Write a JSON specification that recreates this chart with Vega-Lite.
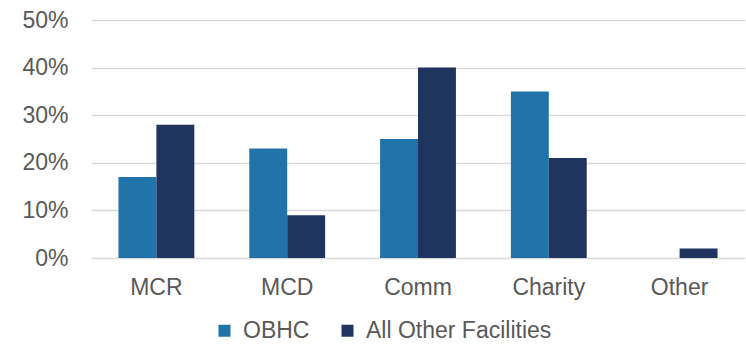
{
  "$schema": "https://vega.github.io/schema/vega-lite/v6.json",
  "width": 654,
  "height": 238,
  "autosize": {"type": "none"},
  "padding": {"left": 91, "top": 20, "right": 1, "bottom": 94},
  "background": "white",
  "data": {"values": [
    {"cat": "MCR", "series": "OBHC", "v": 0.17},
    {"cat": "MCR", "series": "All Other Facilities", "v": 0.28},
    {"cat": "MCD", "series": "OBHC", "v": 0.23},
    {"cat": "MCD", "series": "All Other Facilities", "v": 0.09},
    {"cat": "Comm", "series": "OBHC", "v": 0.25},
    {"cat": "Comm", "series": "All Other Facilities", "v": 0.40},
    {"cat": "Charity", "series": "OBHC", "v": 0.35},
    {"cat": "Charity", "series": "All Other Facilities", "v": 0.21},
    {"cat": "Other", "series": "OBHC", "v": 0.0},
    {"cat": "Other", "series": "All Other Facilities", "v": 0.02}
  ]},
  "config": {
    "view": {"stroke": null},
    "font": "Liberation Sans"
  },
  "mark": {"type": "bar"},
  "encoding": {
    "x": {
      "field": "cat", "type": "nominal", "sort": ["MCR", "MCD", "Comm", "Charity", "Other"],
      "scale": {"paddingInner": 0.42, "paddingOuter": 0.21},
      "axis": {"title": null, "labelAngle": 0, "labelFontSize": 23, "labelColor": "#595959", "ticks": false, "domain": false, "labelPadding": 18}
    },
    "xOffset": {"field": "series", "sort": ["OBHC", "All Other Facilities"]},
    "y": {
      "field": "v", "type": "quantitative",
      "scale": {"domain": [0, 0.5]},
      "axis": {"title": null, "format": ".0%", "values": [0, 0.1, 0.2, 0.3, 0.4, 0.5], "labelFontSize": 23, "labelColor": "#595959", "ticks": false, "domain": false, "labelPadding": 23, "gridColor": "#d9d9d9", "gridWidth": 1.5}
    },
    "color": {
      "field": "series", "type": "nominal", "sort": ["OBHC", "All Other Facilities"],
      "scale": {"domain": ["OBHC", "All Other Facilities"], "range": ["#2174aa", "#1f3560"]},
      "legend": {"title": null, "orient": "none", "legendX": 122, "legendY": 299, "direction": "horizontal", "symbolType": "square", "symbolSize": 144, "symbolStrokeWidth": 0, "labelFontSize": 23, "labelLimit": 400, "labelColor": "#595959", "columnPadding": 26, "labelOffset": 7}
    }
  }
}
